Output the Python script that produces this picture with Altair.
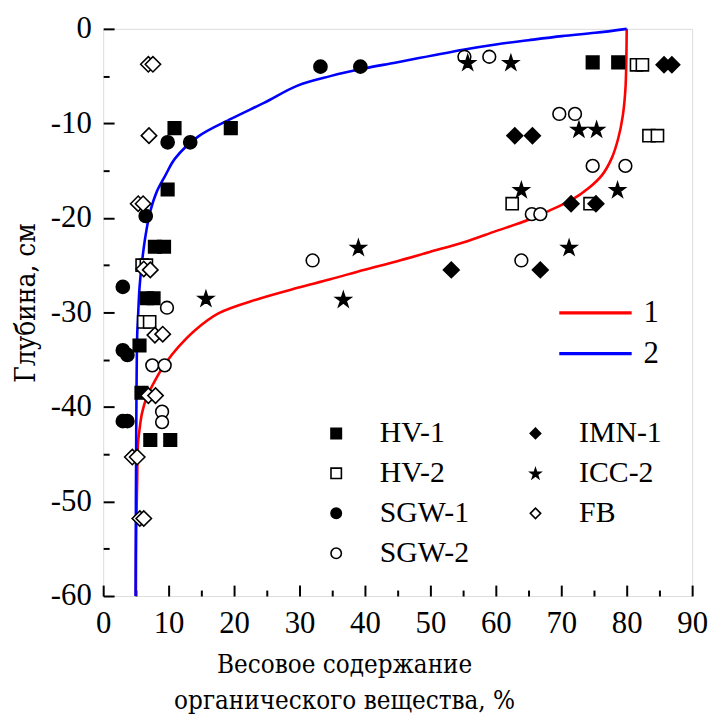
import altair as alt
import pandas as pd

FONT = "Times New Roman, DejaVu Serif"
FONT_CYR = "DejaVu Serif Condensed, DejaVu Serif"

# ---- measured series (x = organic matter %, y = depth cm) ----
hv1_x = [74.8, 78.7, 10.9, 19.5, 9.85, 7.9, 9.3, 6.7, 7.7, 5.55, 5.85, 7.2, 10.25]
hv1_y = [-3.55, -3.55, -10.5, -10.5, -17.0, -23.05, -23.05, -28.5, -28.5, -33.5, -38.5, -43.5, -43.5]
hv2_x = [81.5, 82.4, 83.4, 84.7, 62.5, 74.4, 5.95, 6.6, 6.2, 7.1]
hv2_y = [-3.8, -3.8, -11.3, -11.3, -18.5, -18.5, -25.0, -25.0, -31.0, -31.0]
sgw1_x = [33.2, 39.3, 9.85, 13.3, 6.5, 3.0, 3.0, 3.7, 3.0, 3.7]
sgw1_y = [-4.0, -4.0, -12.0, -12.0, -19.8, -27.3, -34.0, -34.5, -41.5, -41.5]
sgw2_x = [55.2, 59.0, 69.7, 72.1, 74.8, 79.8, 65.5, 66.8, 32.0, 63.9, 9.75, 7.5, 9.4, 9.0, 9.0]
sgw2_y = [-2.95, -2.95, -9.0, -9.0, -14.5, -14.5, -19.6, -19.6, -24.5, -24.5, -29.5, -35.6, -35.6, -40.5, -41.6]
imn1_x = [85.7, 86.9, 62.9, 65.6, 71.5, 75.3, 53.2, 66.8]
imn1_y = [-3.8, -3.8, -11.3, -11.3, -18.5, -18.5, -25.5, -25.5]
icc2_x = [55.7, 62.3, 72.7, 75.4, 63.9, 78.6, 39.0, 71.2, 15.7, 36.7]
icc2_y = [-3.55, -3.55, -10.6, -10.6, -17.0, -17.0, -23.1, -23.1, -28.5, -28.6]
fb_x = [6.9, 7.6, 7.0, 5.35, 6.1, 6.2, 7.2, 7.9, 9.1, 6.9, 8.0, 4.45, 5.2, 5.6, 6.2]
fb_y = [-3.75, -3.75, -11.3, -18.5, -18.5, -25.4, -25.5, -32.4, -32.3, -38.8, -38.8, -45.3, -45.3, -51.8, -51.8]

# ---- model curves ----
curve1_x = [80.0, 79.95, 79.8, 79.4, 78.7, 77.7, 76.2, 74.1, 71.6, 68.6, 65.0, 60.0, 55.0,
            49.9, 44.8, 39.8, 34.7, 29.7, 23.6, 17.6, 14.0, 11.5, 9.5, 8.0, 6.7, 5.95,
            5.55, 5.3, 5.2, 5.05, 5.0]
curve1_y = [0.0, -3.0, -6.4, -9.2, -11.6, -13.7, -15.5, -16.9, -18.1, -19.1, -20.2, -21.4, -22.6,
            -23.6, -24.6, -25.5, -26.5, -27.4, -28.6, -30.1, -31.9, -33.65, -35.4, -37.1, -38.9, -40.6,
            -42.4, -44.1, -47.6, -53.0, -60.0]
curve2_x = [80.0, 75.2, 70.1, 65.0, 60.0, 55.0, 44.8, 39.8, 34.7, 29.7, 24.65, 19.6, 14.5,
            11.0, 9.5, 8.2, 7.2, 6.5, 5.95, 5.55, 5.3, 5.2, 5.05, 4.95]
curve2_y = [0.0, -0.42, -0.77, -1.2, -1.65, -2.2, -3.55, -4.2, -5.0, -6.0, -7.8, -9.5, -11.4,
            -13.7, -15.5, -17.2, -19.3, -21.75, -24.55, -27.4, -30.9, -32.3, -42.7, -60.0]

series_names = ["HV-1", "HV-2", "SGW-1", "SGW-2", "IMN-1", "ICC-2", "FB"]
series_x = [hv1_x, hv2_x, sgw1_x, sgw2_x, imn1_x, icc2_x, fb_x]
series_y = [hv1_y, hv2_y, sgw1_y, sgw2_y, imn1_y, icc2_y, fb_y]

curve_names = ["1", "2"]
x_major = [0, 10, 20, 30, 40, 50, 60, 70, 80, 90]
x_minor = [5, 15, 25, 35, 45, 55, 65, 75, 85]
y_major = [-60, -50, -40, -30, -20, -10, 0]
y_minor = [-55, -45, -35, -25, -15, -5]

rows = []
for name, xs, ys in zip(series_names, series_x, series_y):
    for xv, yv in zip(xs, ys):
        rows.append({"x": xv, "y": yv, "series": name})
pts = pd.DataFrame(rows)

crow = []
for name, xs, ys in zip(curve_names, [curve1_x, curve2_x], [curve1_y, curve2_y]):
    for i, (xv, yv) in enumerate(zip(xs, ys)):
        crow.append({"x": xv, "y": yv, "curve": name, "i": i})
curves = pd.DataFrame(crow)

STAR = "M0,-0.9L0.2245,-0.209L0.951,-0.209L0.363,0.218L0.588,0.909L0,0.482L-0.588,0.909L-0.363,0.218L-0.951,-0.209L-0.2245,-0.209Z"
LINE_SYM = "M-2.5,0H2.5"
shape_of = {"HV-1": "square", "HV-2": "square", "SGW-1": "circle", "SGW-2": "circle",
            "IMN-1": "diamond", "ICC-2": STAR, "FB": "diamond"}
fill_of = {"HV-1": "black", "HV-2": "white", "SGW-1": "black", "SGW-2": "white",
           "IMN-1": "black", "ICC-2": "black", "FB": "white"}
size_of = {"HV-1": 160, "HV-2": 150, "SGW-1": 175, "SGW-2": 165,
           "IMN-1": 250, "ICC-2": 250, "FB": 240}

xscale = alt.Scale(domain=[0, 90], nice=False, zero=False)
yscale = alt.Scale(domain=[-60, 0], nice=False, zero=False)

x_axis_major = alt.Axis(
    values=x_major, orient="bottom", offset=-11, tickSize=11, tickWidth=2, tickColor="black",
    domain=False, grid=False, labelFont=FONT, labelFontSize=31, labelColor="black",
    labelPadding=13, labelFlush=False, labelOverlap=False, labelExpr="'' + datum.value",
    title=["Весовое содержание", "органического вещества, %"],
    titleFont=FONT_CYR, titleFontSize=26, titleFontWeight="normal", titleColor="black",
    titleX=243, titleY=88, titleBaseline="alphabetic", titleAlign="center", titleLineHeight=36,
)
y_axis_major = alt.Axis(
    values=y_major, orient="left", offset=-11, tickSize=11, tickWidth=2, tickColor="black",
    domain=False, grid=False, labelFont=FONT, labelFontSize=31, labelColor="black",
    labelPadding=12, labelFlush=False, labelOverlap=False, labelExpr="'' + datum.value",
    title="Глубина, см", titleFont=FONT_CYR, titleFontSize=28, titleFontWeight="normal",
    titleColor="black", titleX=-80, titleY=276, titleBaseline="alphabetic", titleAlign="center",
    titleAngle=270,
)
x_axis_minor = alt.Axis(values=x_minor, orient="bottom", offset=-6, tickSize=6, tickWidth=2,
                        tickColor="black", domain=False, grid=False, labels=False, title=None)
y_axis_minor = alt.Axis(values=y_minor, orient="left", offset=-6, tickSize=6, tickWidth=2,
                        tickColor="black", domain=False, grid=False, labels=False, title=None)

sym_legend = alt.Legend(
    title=None, orient="none", legendX=220, legendY=393, columns=2, columnPadding=52,
    rowPadding=10.3, labelFont=FONT, labelFontSize=30, labelColor="black", labelOffset=29,
    symbolSize=110, symbolStrokeColor="black", symbolStrokeWidth=1.6, labelLimit=300,
)

lines = alt.Chart(curves).mark_line(strokeWidth=2.6, interpolate="catmull-rom").encode(
    x=alt.X("x:Q", scale=xscale, axis=None),
    y=alt.Y("y:Q", scale=yscale, axis=None),
    order=alt.Order("i:Q"),
    color=alt.Color(
        "curve:N",
        scale=alt.Scale(domain=curve_names, range=["#ff0000", "#0000ff"]),
        legend=alt.Legend(title=None, orient="none", legendX=480, legendY=270,
                          symbolType=LINE_SYM, symbolSize=853, symbolStrokeWidth=3.2,
                          labelFont=FONT, labelFontSize=31, labelColor="black",
                          labelOffset=32, rowPadding=9),
    ),
)

points = alt.Chart(pts).mark_point(filled=True, strokeWidth=1.6, opacity=1).encode(
    x=alt.X("x:Q", scale=xscale, axis=x_axis_major),
    y=alt.Y("y:Q", scale=yscale, axis=y_axis_major),
    shape=alt.Shape("series:N", scale=alt.Scale(domain=series_names,
                                                range=[shape_of[s] for s in series_names]),
                    legend=sym_legend),
    fill=alt.Fill("series:N", scale=alt.Scale(domain=series_names,
                                              range=[fill_of[s] for s in series_names]),
                  legend=sym_legend),
    stroke=alt.Stroke("series:N", scale=alt.Scale(domain=series_names,
                                                  range=["black"] * len(series_names)),
                      legend=sym_legend),
    size=alt.Size("series:N", scale=alt.Scale(type="ordinal", domain=series_names,
                                              range=[size_of[s] for s in series_names]),
                  legend=None),
)

minor = alt.Chart(pts).mark_point(opacity=0).encode(
    x=alt.X("x:Q", scale=xscale, axis=x_axis_minor),
    y=alt.Y("y:Q", scale=yscale, axis=y_axis_minor),
)

chart = alt.layer(lines, points, minor).resolve_axis(
    x="independent", y="independent"
).resolve_legend(color="independent", shape="independent", fill="independent",
                 stroke="independent").properties(
    width=594, height=572,
    padding={"left": 96, "top": 18, "right": 17, "bottom": 121},
    autosize=alt.AutoSizeParams(type="none"),
).configure_view(stroke="black", strokeWidth=2).configure(background="white")

chart.save("out.html", embed_options={"renderer": "svg", "actions": False})
